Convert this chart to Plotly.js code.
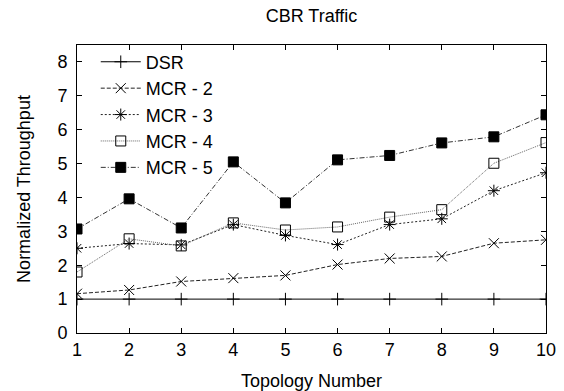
<!DOCTYPE html>
<html>
<head>
<meta charset="utf-8">
<script src="https://cdn.plot.ly/plotly-3.0.1.min.js"></script>
<style>html,body{margin:0;padding:0;background:#fff;}#chart{width:564px;height:391px;}</style>
</head>
<body>
<div id="chart"></div>
<script>
const topology = [1, 2, 3, 4, 5, 6, 7, 8, 9, 10];
const dsr  = [1, 1, 1, 1, 1, 1, 1, 1, 1, 1];
const mcr2 = [1.16, 1.27, 1.52, 1.62, 1.70, 2.02, 2.20, 2.26, 2.65, 2.75];
const mcr3 = [2.50, 2.64, 2.60, 3.20, 2.88, 2.61, 3.20, 3.37, 4.20, 4.73];
const mcr4 = [1.80, 2.78, 2.57, 3.25, 3.04, 3.13, 3.42, 3.64, 5.01, 5.62];
const mcr5 = [3.07, 3.96, 3.10, 5.05, 3.84, 5.11, 5.24, 5.61, 5.79, 6.44];
const seriesNames = ['DSR', 'MCR - 2', 'MCR - 3', 'MCR - 4', 'MCR - 5'];
const yTicks = [0, 1, 2, 3, 4, 5, 6, 7, 8];

const FONT = 'Liberation Sans, Arial, Helvetica, sans-serif';

function tr(name, y, dash, color, symbol, size) {
  return {
    x: topology, y: y, name: name, type: 'scatter', mode: 'lines+markers',
    line: {color: color, width: 1, dash: dash},
    marker: {symbol: symbol, size: size, color: '#000', line: {color: '#000', width: 1}}
  };
}

const data = [
  tr(seriesNames[0], dsr, 'solid', '#000', 'cross-thin-open', 9),
  tr(seriesNames[1], mcr2, '4px,2px', '#222', 'x-thin-open', 10),
  tr(seriesNames[2], mcr3, '2px,2px', '#222', 'asterisk-open', 10),
  tr(seriesNames[3], mcr4, '1px,1px', '#666', 'square-open', 10),
  tr(seriesNames[4], mcr5, '5px,2px,1px,2px', '#333', 'square', 10)
];

const layout = {
  width: 564, height: 391,
  margin: {l: 77, r: 18, t: 45, b: 58},
  paper_bgcolor: '#fff', plot_bgcolor: '#fff',
  font: {family: FONT, size: 18, color: '#000'},
  title: {text: 'CBR Traffic', font: {family: FONT, size: 18, color: '#000'},
          x: 0.5, xref: 'paper', y: 0.959, yref: 'container', yanchor: 'middle'},
  xaxis: {
    range: [1, 10], tickvals: topology, ticktext: topology.map(String),
    ticks: 'inside', ticklen: 5, tickcolor: '#000', tickwidth: 1,
    showline: true, linecolor: '#000', linewidth: 1, mirror: 'ticks',
    showgrid: false, zeroline: false,
    tickfont: {family: FONT, size: 18}, ticklabelstandoff: 0,
    title: {text: 'Topology Number', font: {family: FONT, size: 18}, standoff: 15}
  },
  yaxis: {
    range: [0, 8.5], tickvals: yTicks, ticktext: yTicks.map(String),
    ticks: 'inside', ticklen: 5, tickcolor: '#000', tickwidth: 1,
    showline: true, linecolor: '#000', linewidth: 1, mirror: 'ticks',
    showgrid: false, zeroline: false,
    tickfont: {family: FONT, size: 18}, ticklabelstandoff: 5,
    title: {text: 'Normalized Throughput', font: {family: FONT, size: 18}, standoff: 22}
  },
  legend: {
    x: 0.04, y: 1.005, xanchor: 'left', yanchor: 'top',
    bgcolor: 'rgba(0,0,0,0)', borderwidth: 0,
    font: {family: FONT, size: 18}, tracegroupgap: 0, itemwidth: 40
  },
  showlegend: true
};

Plotly.newPlot('chart', data, layout, {displayModeBar: false, staticPlot: true});
</script>
</body>
</html>
